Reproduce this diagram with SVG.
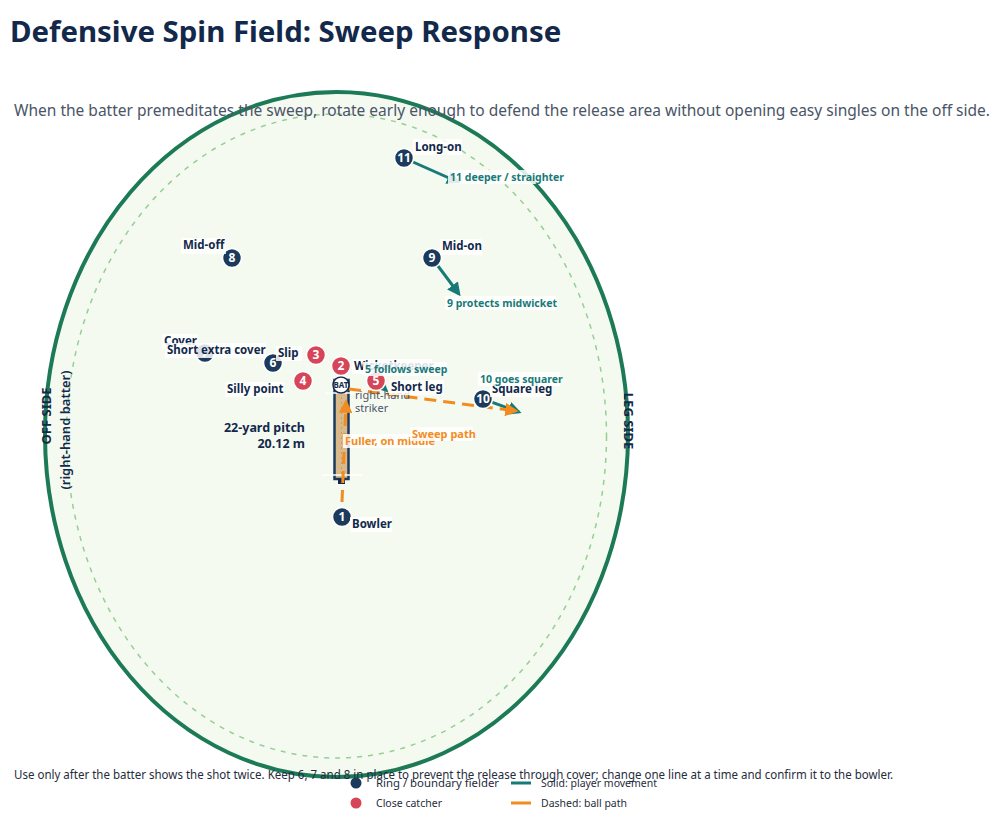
<svg xmlns="http://www.w3.org/2000/svg" width="1000" height="824" viewBox="0 0 1000 824">
<defs>
<style>
.title{font-family:"Noto Sans",sans-serif;font-weight:700;font-size:29.4px;fill:#13294b}
.sub{font-family:"Noto Sans",sans-serif;font-size:15.5px;fill:#4a5568}
.note{font-family:"Noto Sans",sans-serif;font-size:12px;fill:#1f2d3d}
.lbl{font-family:"Noto Sans",sans-serif;font-weight:700;font-size:11.5px;fill:#13294b}
.pl{font-family:"Noto Sans",sans-serif;font-weight:700;font-size:12.5px;fill:#13294b;text-anchor:end}
.mv{font-family:"Noto Sans",sans-serif;font-weight:700;font-size:10.5px;fill:#177a78}
.bl{font-family:"Noto Sans",sans-serif;font-weight:700;font-size:11px;fill:#f28c1e}
.num{font-family:"Noto Sans",sans-serif;font-weight:700;font-size:12px;fill:#ffffff;text-anchor:middle}
.ring{fill:#1b3a5c;stroke:#ffffff;stroke-width:1.5}
.close{fill:#d64558;stroke:#ffffff;stroke-width:1.5}
.bg{fill:#ffffff;fill-opacity:0.85}
.move{stroke:#177a78;stroke-width:3;fill:none;marker-end:url(#ah-t)}
.ball{stroke:#f28c1e;stroke-width:3;fill:none;stroke-dasharray:12 7;marker-end:url(#ah-o)}
.side{font-family:"Noto Sans",sans-serif;font-weight:700;font-size:13px;fill:#13294b;text-anchor:middle}
.leg{font-family:"Noto Sans",sans-serif;font-size:11px;fill:#1f2d3d}
</style>
<marker id="ah-t" viewBox="0 0 10 10" refX="8" refY="5" markerWidth="4.5" markerHeight="4.5" orient="auto" markerUnits="strokeWidth"><path d="M0,0 L10,5 L0,10 z" fill="#177a78"/></marker>
<marker id="ah-o" viewBox="0 0 10 10" refX="8" refY="5" markerWidth="4.5" markerHeight="4.5" orient="auto" markerUnits="strokeWidth"><path d="M0,0 L10,5 L0,10 z" fill="#f28c1e"/></marker>
</defs>
<rect width="1000" height="824" fill="#ffffff"/>
<text class="title" x="10" y="42">Defensive Spin Field: Sweep Response</text>

<g id="field">
<ellipse cx="336.5" cy="434.5" rx="291.5" ry="342.5" fill="#f5faf1" stroke="#1d7a57" stroke-width="4"/>
<ellipse cx="336.5" cy="436" rx="270" ry="322" fill="none" stroke="#94cf94" stroke-width="1.5" stroke-dasharray="5 6"/>
</g>
<text class="sub" x="14" y="116" textLength="976" lengthAdjust="spacingAndGlyphs">When the batter premeditates the sweep, rotate early enough to defend the release area without opening easy singles on the off side.</text>

<g id="pitch">
<rect x="334.5" y="380" width="14" height="99" fill="#d9b98a" stroke="#1b3a5c" stroke-width="2.5"/>
<line x1="341.5" y1="382" x2="341.5" y2="477" stroke="#c49d6a" stroke-width="1" stroke-dasharray="2 3"/>
<line x1="325" y1="393" x2="360" y2="393" stroke="#ffffff" stroke-width="1.5"/>
<line x1="322" y1="475" x2="362" y2="475" stroke="#ffffff" stroke-width="1.5"/>
<rect x="338" y="479" width="7" height="5" fill="#13294b"/>
<text class="pl" x="305" y="432">22-yard pitch</text>
<text class="pl" x="305" y="448">20.12 m</text>
</g>

<g id="off-side"><text class="side" transform="translate(51 416) rotate(-90)">OFF SIDE</text>
<text class="side" style="font-weight:600" transform="translate(70 430) rotate(-90)">(right-hand batter)</text></g>
<g id="leg-side"><text class="side" transform="translate(624 421) rotate(90)">LEG SIDE</text></g>

<g id="connectors">
<path class="move" d="M404,158 L458,182"/>
<path class="move" d="M432,258 L459,294"/>
<path class="move" d="M376,381 L387,391" style="stroke-width:2"/>
<path class="move" d="M483,399 L519,412"/>
<path class="ball" d="M342,502 L346,402"/>
<path class="ball" d="M349,389 L516,411"/>
</g>

<g id="striker">
<text x="355" y="399" style="font-family:'Noto Sans',sans-serif;font-size:11px;fill:#4a5568">right-hand</text>
<text x="355" y="412" style="font-family:'Noto Sans',sans-serif;font-size:11px;fill:#4a5568">striker</text>
<circle cx="341" cy="385" r="8" fill="#ffffff" stroke="#13294b" stroke-width="1.5"/>
<text x="341" y="388" text-anchor="middle" style="font-family:'Noto Sans',sans-serif;font-weight:700;font-size:8px;fill:#13294b">BAT</text>
</g>

<g id="f11"><circle class="ring" cx="404" cy="158" r="9.5"/><text class="num" x="404" y="162">11</text>
<rect class="bg" x="413" y="139" width="49" height="16"/><text class="lbl" x="415" y="151">Long-on</text></g>
<g id="f9"><circle class="ring" cx="432" cy="258" r="9.5"/><text class="num" x="432" y="262">9</text>
<rect class="bg" x="440" y="239" width="42" height="16"/><text class="lbl" x="442" y="250">Mid-on</text></g>
<g id="f8"><circle class="ring" cx="232" cy="258" r="9.5"/><text class="num" x="232" y="262">8</text>
<rect class="bg" x="181" y="238" width="45" height="16"/><text class="lbl" x="183" y="249">Mid-off</text></g>
<g id="f7"><circle class="ring" cx="205" cy="353" r="9.5"/><text class="num" x="205" y="357">7</text>
<rect class="bg" x="162" y="334" width="36" height="15"/><text class="lbl" x="164" y="345">Cover</text></g>
<g id="f6"><circle class="ring" cx="273" cy="363" r="9.5"/><text class="num" x="273" y="367">6</text>
<rect class="bg" x="165" y="343" width="101" height="15"/><text class="lbl" x="167" y="354">Short extra cover</text></g>
<g id="f3"><circle class="close" cx="316" cy="355" r="9.5"/><text class="num" x="316" y="359">3</text>
<rect class="bg" x="276" y="346" width="26" height="15"/><text class="lbl" x="278" y="357">Slip</text></g>
<g id="f2"><circle class="close" cx="341" cy="366" r="9.5"/><text class="num" x="341" y="370">2</text>
<rect class="bg" x="352" y="359" width="80" height="15"/><text class="lbl" x="354" y="370">Wicketkeeper</text></g>
<g id="f4"><circle class="close" cx="303" cy="381" r="9.5"/><text class="num" x="303" y="385">4</text>
<rect class="bg" x="225" y="382" width="59" height="15"/><text class="lbl" x="227" y="393">Silly point</text></g>
<g id="f5"><circle class="close" cx="376" cy="381" r="9.5"/><text class="num" x="376" y="385">5</text>
<rect class="bg" x="389" y="380" width="55" height="15"/><text class="lbl" x="391" y="391">Short leg</text></g>
<g id="f10"><circle class="ring" cx="483" cy="399" r="9.5"/><text class="num" x="483" y="403">10</text>
<rect class="bg" x="490" y="382" width="62" height="15"/><text class="lbl" x="492" y="393">Square leg</text></g>
<g id="f1"><circle class="ring" cx="342" cy="517" r="9.5"/><text class="num" x="342" y="521">1</text>
<rect class="bg" x="350" y="517" width="42" height="15"/><text class="lbl" x="352" y="528">Bowler</text></g>

<g id="connector-labels">
<rect class="bg" x="448" y="170" width="114" height="14"/><text class="mv" x="450" y="181">11 deeper / straighter</text>
<rect class="bg" x="445" y="296" width="111" height="14"/><text class="mv" x="447" y="307">9 protects midwicket</text>
<rect class="bg" x="363" y="362" width="84" height="14"/><text class="mv" x="365" y="373">5 follows sweep</text>
<rect class="bg" x="478" y="372" width="82" height="14"/><text class="mv" x="480" y="383">10 goes squarer</text>
<rect class="bg" x="343" y="434" width="89" height="14"/><text class="bl" x="345" y="445">Fuller, on middle</text>
<rect class="bg" x="410" y="427" width="63" height="14"/><text class="bl" x="412" y="438">Sweep path</text>
</g>

<text class="note" x="14" y="779" textLength="879" lengthAdjust="spacingAndGlyphs">Use only after the batter shows the shot twice. Keep 6, 7 and 8 in place to prevent the release through cover; change one line at a time and confirm it to the bowler.</text>

<g id="legend">
<circle cx="356" cy="783" r="5.5" fill="#1b3a5c"/>
<text class="leg" x="376" y="787" textLength="123" lengthAdjust="spacingAndGlyphs">Ring / boundary fielder</text>
<circle cx="356" cy="803" r="5.5" fill="#d64558"/>
<text class="leg" x="376" y="807" textLength="66" lengthAdjust="spacingAndGlyphs">Close catcher</text>
<line x1="511" y1="783" x2="531" y2="783" stroke="#177a78" stroke-width="3"/>
<text class="leg" x="541" y="787" textLength="116" lengthAdjust="spacingAndGlyphs">Solid: player movement</text>
<line x1="511" y1="803" x2="531" y2="803" stroke="#f28c1e" stroke-width="3"/>
<text class="leg" x="541" y="807" textLength="86" lengthAdjust="spacingAndGlyphs">Dashed: ball path</text>
</g>
</svg>
